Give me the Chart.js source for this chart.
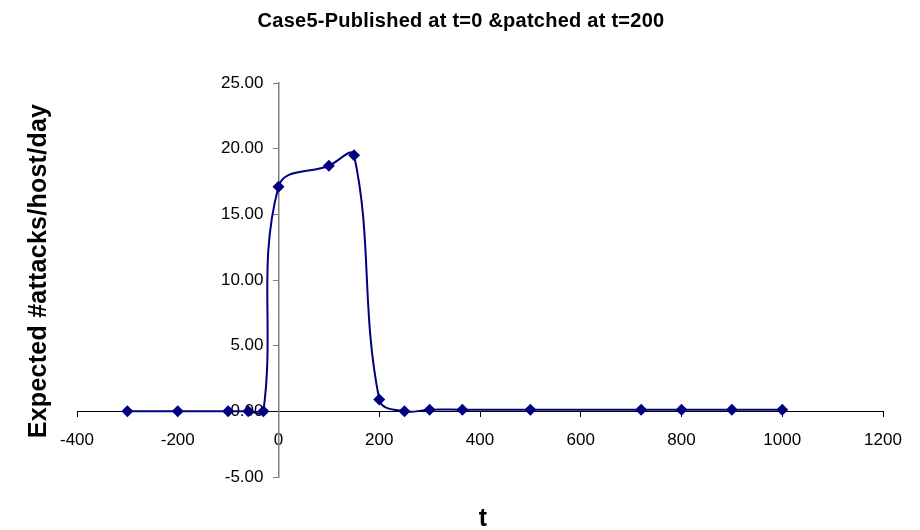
<!DOCTYPE html>
<html>
<head>
<meta charset="utf-8">
<script src="https://cdn.jsdelivr.net/npm/chart.js@4/dist/chart.umd.min.js"></script>
<style>
  html, body { margin: 0; padding: 0; background: #fff; }
  #wrap { width: 920px; height: 530px; }
</style>
</head>
<body>
<div id="wrap"><canvas id="c" width="920" height="530"></canvas></div>
<script>
// Time since publication (days) and expected attacks per host per day
const tValues = [-300, -200, -100, -60, -30, 0, 100, 150, 200, 250, 300, 365, 500, 720, 800, 900, 1000];
const attackRates = [0, 0, 0, 0, 0, 17.1, 18.7, 19.5, 0.9, 0, 0.13, 0.13, 0.13, 0.13, 0.13, 0.13, 0.13];

const chartTitle = 'Case5-Published at t=0 &patched at t=200';
const xTitle = 't';
const yTitle = 'Expected #attacks/host/day';

const points = tValues.map((t, i) => ({ x: t, y: attackRates[i] }));

// Linear scale whose labels keep a gap from an axis that crosses the plot
class CrossLinearScale extends Chart.LinearScale {
  _computeLabelItems(chartArea) {
    const items = super._computeLabelItems(chartArea);
    const gap = this.options.labelGap || 0;
    if (!this.isHorizontal()) {
      items.forEach(item => { item.options.translation[0] -= gap; });
    }
    return items;
  }
}
CrossLinearScale.id = 'crossLinear';
CrossLinearScale.defaults = Chart.LinearScale.defaults;
Chart.register(CrossLinearScale);

// Chart heading and the two axis captions
const captions = {
  id: 'captions',
  afterDraw(chart) {
    const ctx = chart.ctx;
    ctx.save();
    ctx.fillStyle = '#000';
    ctx.textAlign = 'center';
    ctx.textBaseline = 'middle';
    if ('letterSpacing' in ctx) ctx.letterSpacing = '0.25px';

    ctx.font = 'bold 20px "Liberation Sans", Arial, sans-serif';
    ctx.fillText(chartTitle, 461, 21);

    ctx.font = 'bold 25px "Liberation Sans", Arial, sans-serif';
    ctx.fillText(xTitle, 483, 519);

    ctx.translate(39, 271);
    ctx.rotate(-Math.PI / 2);
    ctx.fillText(yTitle, 0, 0);
    ctx.restore();
  }
};

const tickFont = { family: '"Liberation Sans", Arial, sans-serif', size: 17 };

new Chart(document.getElementById('c'), {
  type: 'scatter',
  data: {
    datasets: [{
      data: points,
      showLine: true,
      borderColor: '#000080',
      backgroundColor: '#000080',
      borderWidth: 2,
      tension: 0.4,
      pointStyle: 'rectRot',
      pointRadius: 6,
      pointHoverRadius: 6,
      pointBorderWidth: 0
    }]
  },
  options: {
    responsive: false,
    animation: false,
    devicePixelRatio: 1,
    layout: { padding: { left: 77, right: 37, top: 83, bottom: 53 } },
    plugins: {
      legend: { display: false },
      title: { display: false },
      tooltip: { enabled: false }
    },
    scales: {
      x: {
        type: 'linear',
        position: { y: 0 },
        min: -400,
        max: 1200,
        ticks: {
          stepSize: 200,
          color: '#000',
          padding: 14,
          maxRotation: 0,
          callback: v => String(v),
          font: tickFont
        },
        grid: {
          drawOnChartArea: false,
          drawTicks: true,
          tickLength: 5,
          color: '#000'
        },
        border: { display: true, color: '#000', width: 1 }
      },
      y: {
        type: 'crossLinear',
        position: { x: 0 },
        min: -5,
        max: 25,
        labelGap: 15,
        ticks: {
          stepSize: 5,
          color: '#000',
          callback: v => v.toFixed(2),
          font: tickFont
        },
        grid: {
          drawOnChartArea: false,
          drawTicks: true,
          tickLength: 5,
          color: '#808080'
        },
        border: { display: true, color: '#808080', width: 1.5 }
      }
    }
  },
  plugins: [captions]
});
</script>
</body>
</html>
